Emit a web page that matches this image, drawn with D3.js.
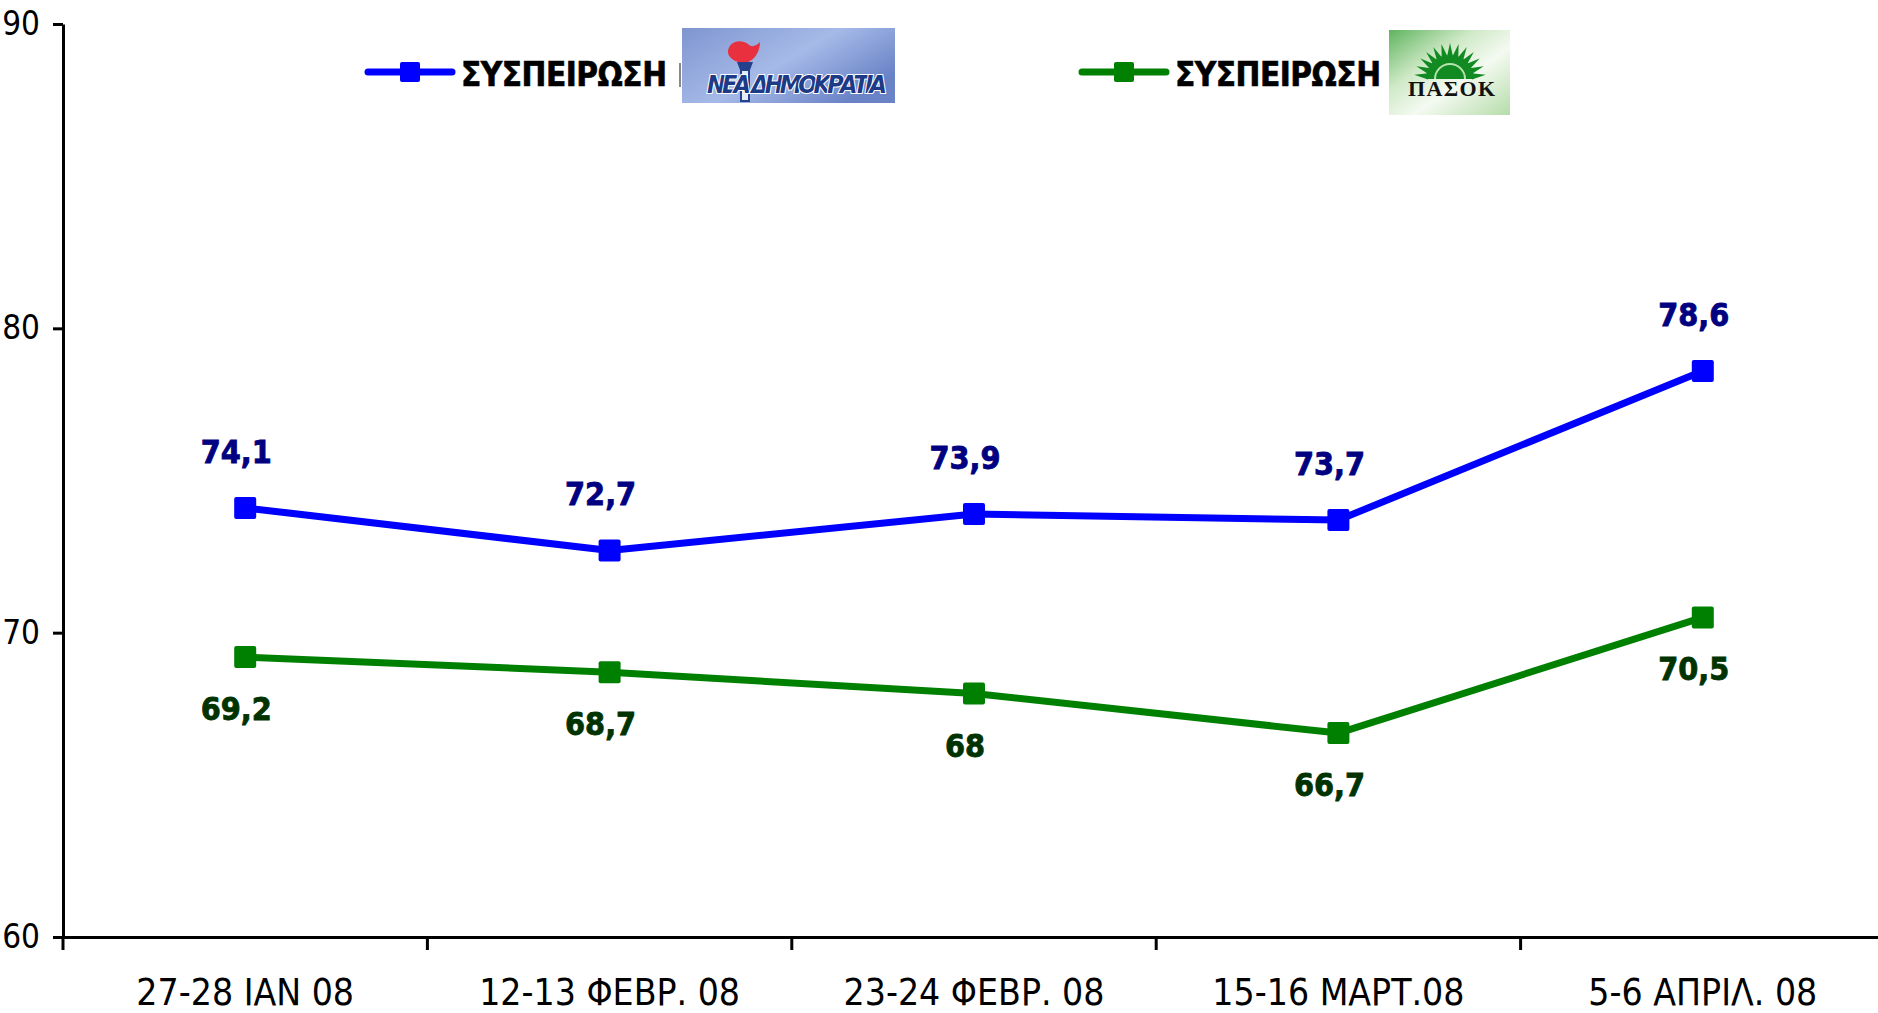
<!DOCTYPE html>
<html>
<head>
<meta charset="utf-8">
<script src="https://cdn.jsdelivr.net/npm/d3@7"></script>
<style>
  html, body { margin: 0; padding: 0; background: #fff; overflow: hidden; }
  svg { display: block; }
  text { font-family: "DejaVu Sans Condensed", "DejaVu Sans", sans-serif; }
</style>
</head>
<body>
<div id="chart"></div>
<script>
// data
const dates = ["27-28 ΙΑΝ 08", "12-13 ΦΕΒΡ. 08", "23-24 ΦΕΒΡ. 08", "15-16 ΜΑΡΤ.08", "5-6 ΑΠΡΙΛ. 08"];
const nd = [74.1, 72.7, 73.9, 73.7, 78.6];
const pasok = [69.2, 68.7, 68, 66.7, 70.5];
const yTicks = [60, 70, 80, 90];
const legendLabel = "ΣΥΣΠΕΙΡΩΣΗ";

const W = 1878, H = 1013;
const margin = {top: 24, right: -7, bottom: 76, left: 63};

const svg = d3.select("#chart").append("svg")
  .attr("width", W)
  .attr("height", H);

const x = d3.scaleBand()
  .domain(dates)
  .range([margin.left, W - margin.right])
  .padding(0);

const y = d3.scaleLinear()
  .domain([60, 90])
  .range([H - margin.bottom, margin.top]);

const cx = (d) => x(d) + x.bandwidth() / 2;
const fmt = (v) => String(v).replace(".", ",");

// y axis
const yAxis = svg.append("g")
  .attr("transform", `translate(${margin.left},0)`)
  .call(d3.axisLeft(y).tickValues(yTicks).tickSize(10).tickSizeOuter(0).tickPadding(13).tickFormat(d3.format("d")));
yAxis.select(".domain").attr("stroke", "#000").attr("stroke-width", 3);
yAxis.selectAll(".tick line").attr("stroke", "#000").attr("stroke-width", 3);
yAxis.selectAll(".tick text")
  .attr("fill", "#000")
  .style("font-size", "33px");

// x axis: labels centred in bands, ticks on band boundaries
const xAxis = svg.append("g")
  .attr("transform", `translate(0,${y(60)})`)
  .call(d3.axisBottom(x).tickSize(0).tickSizeOuter(0).tickPadding(42));
xAxis.select(".domain").attr("stroke", "#000").attr("stroke-width", 3);
xAxis.selectAll(".tick text")
  .attr("fill", "#000")
  .style("font-size", "37px");
xAxis.selectAll(".bound")
  .data(dates)
  .join("line")
  .attr("class", "bound")
  .attr("x1", (d) => x(d))
  .attr("x2", (d) => x(d))
  .attr("y1", 0)
  .attr("y2", 13)
  .attr("stroke", "#000")
  .attr("stroke-width", 3);

const lineGen = d3.line()
  .x((d, i) => cx(dates[i]))
  .y((d) => y(d));

function drawSeries(values, color, labelColor, dy) {
  svg.append("path")
    .datum(values)
    .attr("d", lineGen)
    .attr("fill", "none")
    .attr("stroke", color)
    .attr("stroke-width", 7)
    .attr("stroke-linejoin", "round");
  svg.selectAll(null)
    .data(values)
    .join("rect")
    .attr("x", (d, i) => cx(dates[i]) - 11)
    .attr("y", (d) => y(d) - 11)
    .attr("width", 22)
    .attr("height", 22)
    .attr("rx", 2)
    .attr("fill", color);
  svg.selectAll(null)
    .data(values)
    .join("text")
    .attr("x", (d, i) => cx(dates[i]) - 9)
    .attr("y", (d) => y(d) + dy)
    .attr("text-anchor", "middle")
    .attr("dominant-baseline", "central")
    .attr("fill", labelColor)
    .attr("stroke", labelColor)
    .attr("stroke-width", 0.8)
    .style("font-size", "32px")
    .style("font-weight", "bold")
    .text(fmt);
}

drawSeries(nd, "#0000ff", "#000080", -56);
drawSeries(pasok, "#008000", "#003300", 52);

// legend
function legendEntry(x0, yy, color) {
  const g = svg.append("g");
  g.append("line")
    .attr("x1", x0).attr("x2", x0 + 84)
    .attr("y1", yy).attr("y2", yy)
    .attr("stroke", color).attr("stroke-width", 7)
    .attr("stroke-linecap", "round");
  g.append("rect")
    .attr("x", x0 + 32).attr("y", yy - 10)
    .attr("width", 20).attr("height", 20)
    .attr("rx", 2)
    .attr("fill", color);
  g.append("text")
    .attr("x", x0 + 93).attr("y", yy + 2)
    .attr("dominant-baseline", "central")
    .attr("fill", "#000")
    .attr("stroke", "#000")
    .attr("stroke-width", 0.6)
    .attr("textLength", 206)
    .style("font-size", "33px")
    .style("font-weight", "bold")
    .text(legendLabel);
  return g;
}
legendEntry(368, 72, "#0000ff");
legendEntry(1082, 72, "#008000");

const defs = svg.append("defs");

// ND logo
const gNd = defs.append("linearGradient").attr("id", "ndbg").attr("x1", 0).attr("x2", 1).attr("y1", 0).attr("y2", 0.6);
gNd.append("stop").attr("offset", "0%").attr("stop-color", "#7f95cf");
gNd.append("stop").attr("offset", "55%").attr("stop-color", "#a6bae8");
gNd.append("stop").attr("offset", "100%").attr("stop-color", "#6a83c6");
svg.append("rect").attr("x", 679).attr("y", 63).attr("width", 2).attr("height", 24).attr("fill", "#888");
const ndg = svg.append("g").attr("transform", "translate(682,28)");
ndg.append("rect").attr("width", 213).attr("height", 75).attr("fill", "url(#ndbg)");
ndg.append("path")
  .attr("d", "M46,24 C46,14 58,10 66,16 C70,20 74,18 78,14 C78,24 72,32 66,34 L56,34 C50,32 46,28 46,24 Z")
  .attr("fill", "#e8303f");
ndg.append("path")
  .attr("d", "M55,34 L71,34 L68,42 L58,42 Z")
  .attr("fill", "#24418c");
ndg.append("rect").attr("x", 59).attr("y", 42).attr("width", 8).attr("height", 31)
  .attr("fill", "#e4ebf7").attr("stroke", "#24418c").attr("stroke-width", 2);
ndg.append("text")
  .attr("x", 25).attr("y", 65)
  .attr("fill", "#1d3a86")
  .attr("stroke", "#fff").attr("stroke-width", 2)
  .attr("paint-order", "stroke")
  .attr("textLength", 180)
  .style("font-size", "25px").style("font-weight", "bold").style("font-style", "italic")
  .text("ΝΕΑ ΔΗΜΟΚΡΑΤΙΑ");

// PASOK logo
const gPa = defs.append("linearGradient").attr("id", "pabg").attr("x1", 0).attr("x2", 1).attr("y1", 0).attr("y2", 1);
gPa.append("stop").attr("offset", "0%").attr("stop-color", "#5fb45f");
gPa.append("stop").attr("offset", "35%").attr("stop-color", "#cfe9c6");
gPa.append("stop").attr("offset", "60%").attr("stop-color", "#f4faf1");
gPa.append("stop").attr("offset", "100%").attr("stop-color", "#b5dcaa");
const pag = svg.append("g").attr("transform", "translate(1389,30)");
pag.append("rect").attr("width", 121).attr("height", 85).attr("fill", "url(#pabg)");
const sun = {x: 61, y: 49};
const rays = d3.range(13).map((i) => Math.PI + (i + 0.5) * Math.PI / 13);
pag.selectAll(null)
  .data(rays)
  .join("path")
  .attr("d", (a) => {
    const r0 = 22, r1 = 36, da = Math.PI / 22;
    const p = (r, t) => [sun.x + r * Math.cos(t), sun.y + r * Math.sin(t)];
    return "M" + p(r0, a - da) + "L" + p(r1, a) + "L" + p(r0, a + da) + "Z";
  })
  .attr("fill", "#128a22");
pag.append("path")
  .attr("d", d3.arc()({innerRadius: 0, outerRadius: 24, startAngle: -Math.PI / 2, endAngle: Math.PI / 2}))
  .attr("transform", `translate(${sun.x},${sun.y})`)
  .attr("fill", "#128a22");
pag.append("path")
  .attr("d", d3.arc()({innerRadius: 14, outerRadius: 16, startAngle: -Math.PI / 2, endAngle: Math.PI / 2}))
  .attr("transform", `translate(${sun.x},${sun.y})`)
  .attr("fill", "#b8e2b0");
pag.append("text")
  .attr("x", 19).attr("y", 66)
  .attr("fill", "#111")
  .attr("textLength", 87)
  .style("font-family", "'Liberation Serif', serif")
  .style("font-size", "22px").style("font-weight", "bold")
  .text("ΠΑΣΟΚ");
</script>
</body>
</html>
